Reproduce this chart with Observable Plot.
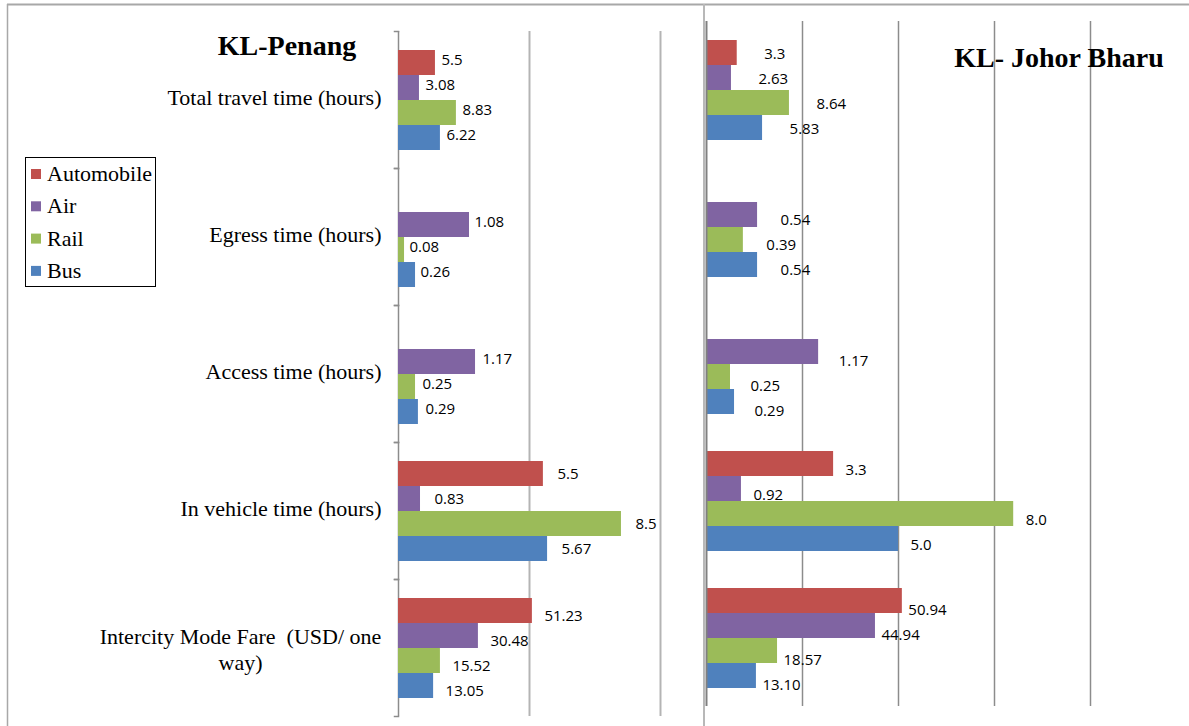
<!DOCTYPE html>
<html>
<head>
<meta charset="utf-8">
<script src="https://cdn.jsdelivr.net/npm/d3@7"></script>
<script src="https://cdn.jsdelivr.net/npm/@observablehq/plot@0.6"></script>
<style>
  html, body { margin: 0; padding: 0; background: #fff; }
  #wrap { position: relative; width: 1189px; height: 726px; overflow: hidden; background: #fff; }
  #wrap > svg, #wrap > div { position: absolute; }
</style>
</head>
<body>
<div id="wrap"></div>
<script>
// ---------- data ----------
const categories = [
  "Total travel time (hours)",
  "Egress time (hours)",
  "Access time (hours)",
  "In vehicle time (hours)",
  "Intercity Mode Fare  (USD/ one\nway)"
];
const modes = ["Automobile", "Air", "Rail", "Bus"];
const modeColors = ["#c0504d", "#8064a2", "#9bbb59", "#4f81bd"];

// KL-Penang: printed labels and plotted bar lengths (axis units), per mode, by category
const penangLabelAutomobile = ["5.5", null, null, "5.5", "51.23"];
const penangLabelAir        = ["3.08", "1.08", "1.17", "0.83", "30.48"];
const penangLabelRail       = ["8.83", "0.08", "0.25", "8.5", "15.52"];
const penangLabelBus        = ["6.22", "0.26", "0.29", "5.67", "13.05"];
const penangBarAutomobile = [14.1, null, null, 55.3, 51.1];
const penangBarAir        = [8.0, 27.1, 29.4, 8.4, 30.5];
const penangBarRail       = [22.1, 2.3, 6.5, 85.1, 16.0];
const penangBarBus        = [16.0, 6.5, 7.6, 56.9, 13.4];

// KL- Johor Bharu
const johorLabelAutomobile = ["3.3", null, null, "3.3", "50.94"];
const johorLabelAir        = ["2.63", "0.54", "1.17", "0.92", "44.94"];
const johorLabelRail       = ["8.64", "0.39", "0.25", "8.0", "18.57"];
const johorLabelBus        = ["5.83", "0.54", "0.29", "5.0", "13.10"];
const johorBarAutomobile = [8.0, null, null, 33.1, 51.0];
const johorBarAir        = [6.5, 13.3, 29.2, 9.1, 44.0];
const johorBarRail       = [21.6, 9.6, 6.25, 80.0, 18.5];
const johorBarBus        = [14.6, 13.3, 7.3, 50.0, 13.0];

const penangTicks = [50, 100];
const johorTicks = [25, 50, 75, 100];

// ---------- build tables ----------
function table(bars, labels) {
  const rows = [];
  modes.forEach((m, j) => {
    categories.forEach((c, i) => {
      if (bars[j][i] != null) rows.push({category: c, mode: m, value: bars[j][i], label: labels[j][i], ci: i});
    });
  });
  return rows;
}
const penang = table(
  [penangBarAutomobile, penangBarAir, penangBarRail, penangBarBus],
  [penangLabelAutomobile, penangLabelAir, penangLabelRail, penangLabelBus]);
const johor = table(
  [johorBarAutomobile, johorBarAir, johorBarRail, johorBarBus],
  [johorLabelAutomobile, johorLabelAir, johorLabelRail, johorLabelBus]);

// ---------- styles ----------
const serif = "'Liberation Serif', 'Times New Roman', serif";
const sans = "'Open Sans', 'Liberation Sans', sans-serif";
// value-label nudges (px) per category row, as placed in the original
const penangNudge = [[6, -3], [5, -3], [7, -3], [14, 0], [12, 5]];
const johorNudge  = [[27, 1], [23, 5], [20, 9], [12, 6], [6, 9]];

function valueLabels(data, nudge) {
  return categories.map((c, i) => Plot.text(data.filter(d => d.ci === i), {
    x: "value", y: "mode", fy: "category", text: "label",
    textAnchor: "start", dx: nudge[i][0], dy: nudge[i][1],
    fontSize: 15, fontFamily: sans, fill: "#000"
  }));
}

const wrap = document.getElementById("wrap");

// ---------- left panel: KL-Penang ----------
const left = Plot.plot({
  width: 705, height: 726,
  marginLeft: 398, marginRight: 45, marginTop: 31, marginBottom: 10,
  style: {background: "transparent", overflow: "visible"},
  x: {domain: [0, 100], axis: null},
  y: {domain: modes, axis: null, paddingInner: 0, paddingOuter: 0.71},
  fy: {domain: categories, axis: null, padding: 0},
  color: {domain: modes, range: modeColors},
  marks: [
    Plot.ruleX(penangTicks, {stroke: "#b4b4b4", strokeWidth: 2}),
    Plot.ruleX([0], {stroke: "#8c8c8c", strokeWidth: 1.5}),
    Plot.frame({anchor: "top", insetLeft: -4, insetRight: 262, stroke: "#8c8c8c", strokeWidth: 1.5}),
    Plot.frame({anchor: "bottom", insetLeft: -4, insetRight: 262, stroke: "#8c8c8c", strokeWidth: 1.5}),
    Plot.barX(penang, {x: "value", y: "mode", fy: "category", fill: "mode"}),
    ...valueLabels(penang, penangNudge),
    Plot.text(categories.slice(0, 4), {
      fy: d => d, text: d => d, frameAnchor: "left", textAnchor: "end", dx: -17, dy: -2,
      fontSize: 22, fontFamily: serif, fill: "#000"
    }),
    Plot.text(categories.slice(4), {
      fy: d => d, text: d => d, frameAnchor: "left", textAnchor: "middle", dx: -158, dy: 1,
      lineHeight: 1.15, fontSize: 22, fontFamily: serif, fill: "#000"
    })
  ]
});
left.style.left = "0px"; left.style.top = "0px";
wrap.appendChild(left);

// ---------- right panel: KL- Johor Bharu ----------
const right = Plot.plot({
  width: 489, height: 726,
  marginLeft: 6, marginRight: 3, marginTop: 20, marginBottom: 20,
  style: {background: "transparent", overflow: "visible"},
  x: {domain: [0, 125], axis: null},
  y: {domain: modes, axis: null, paddingInner: 0, paddingOuter: 0.71},
  fy: {domain: categories, axis: null, padding: 0},
  color: {domain: modes, range: modeColors},
  marks: [
    Plot.ruleX(johorTicks, {stroke: "#8c8c8c", strokeWidth: 1.5}),
    Plot.barX(johor, {x: "value", y: "mode", fy: "category", fill: "mode"}),
    Plot.ruleX([0], {stroke: "#808080", strokeWidth: 2}),
    ...valueLabels(johor, johorNudge)
  ]
});
right.style.left = "700px"; right.style.top = "0px";
wrap.appendChild(right);

// ---------- overlay: borders, titles, legend ----------
const ov = d3.create("svg").attr("width", 1189).attr("height", 726)
  .style("left", "0px").style("top", "0px").style("pointer-events", "none");
ov.append("line").attr("x1", 7).attr("x2", 1189).attr("y1", 4.5).attr("y2", 4.5)
  .attr("stroke", "#a8a8a8").attr("stroke-width", 2);
ov.append("line").attr("x1", 7.5).attr("x2", 7.5).attr("y1", 4).attr("y2", 726)
  .attr("stroke", "#a8a8a8").attr("stroke-width", 1.5);
ov.append("line").attr("x1", 704).attr("x2", 704).attr("y1", 4).attr("y2", 726)
  .attr("stroke", "#b8b8b8").attr("stroke-width", 2);

ov.append("text").attr("x", 287).attr("y", 55).attr("text-anchor", "middle")
  .attr("font-family", serif).attr("font-weight", "bold").attr("font-size", 28)
  .text("KL-Penang");
ov.append("text").attr("x", 1059).attr("y", 67).attr("text-anchor", "middle")
  .attr("font-family", serif).attr("font-weight", "bold").attr("font-size", 28)
  .text("KL- Johor Bharu");

const lg = ov.append("g");
lg.append("rect").attr("x", 25.5).attr("y", 157.5).attr("width", 130).attr("height", 129)
  .attr("fill", "#fff").attr("stroke", "#000").attr("stroke-width", 1);
modes.forEach((m, j) => {
  const cy = 174 + j * 32.3;
  lg.append("rect").attr("x", 31).attr("y", cy - 5).attr("width", 10).attr("height", 10)
    .attr("fill", modeColors[j]);
  lg.append("text").attr("x", 47).attr("y", cy + 7)
    .attr("font-family", serif).attr("font-size", 22).text(m);
});
wrap.appendChild(ov.node());
</script>
</body>
</html>
